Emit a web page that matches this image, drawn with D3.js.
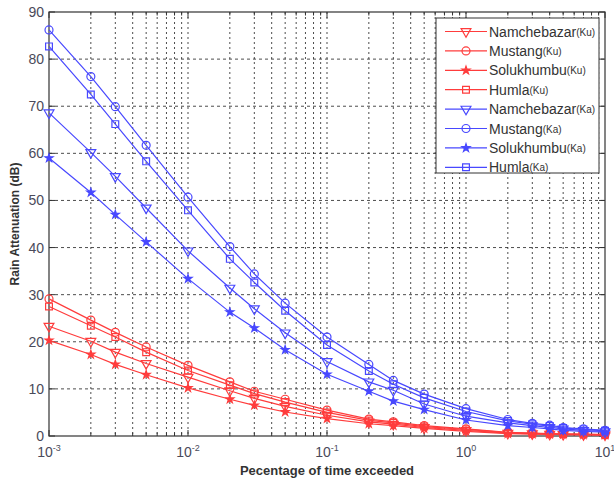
<!DOCTYPE html>
<html><head><meta charset="utf-8">
<script src="https://cdn.jsdelivr.net/npm/d3@7"></script>
<style>body{margin:0;background:#fff} svg{display:block}</style>
</head><body><svg id="c" width="614" height="485"></svg>
<script>
const percentTime = [0.001,0.002,0.003,0.005,0.01,0.02,0.03,0.05,0.1,0.2,0.3,0.5,1,2,3,4,5,7,10];
const namchebazarKu = [23.3,20.1,17.8,15.4,12.5,9.6,8.0,6.3,4.4,3.0,2.5,1.8,1.2,0.6,0.5,0.4,0.35,0.3,0.25];
const mustangKu     = [29.1,24.6,22.0,18.9,15.0,11.5,9.5,7.8,5.5,3.6,3.0,2.2,1.5,0.8,0.6,0.5,0.45,0.4,0.3];
const solukhumbuKu  = [20.3,17.3,15.2,13.0,10.2,7.8,6.5,5.1,3.7,2.6,2.2,1.6,1.0,0.5,0.4,0.35,0.3,0.25,0.2];
const humlaKu       = [27.5,23.4,21.0,17.8,13.9,10.8,9.0,7.2,5.0,3.3,2.8,2.0,1.4,0.7,0.55,0.45,0.4,0.35,0.28];
const namchebazarKa = [68.6,60.2,55.1,48.4,39.3,31.4,27.0,21.9,15.8,11.5,9.7,6.8,4.2,2.8,2.2,1.8,1.5,1.2,0.9];
const mustangKa     = [86.2,76.3,69.9,61.7,50.7,40.2,34.4,28.2,21.0,15.2,11.8,8.9,5.8,3.5,2.7,2.3,1.8,1.5,1.2];
const solukhumbuKa  = [59.0,51.7,47.0,41.2,33.4,26.3,22.9,18.3,13.1,9.5,7.4,5.6,3.4,2.2,1.8,1.5,1.2,1.0,0.8];
const humlaKa       = [82.7,72.5,66.2,58.3,47.9,37.6,32.6,26.6,19.3,13.8,11.0,8.1,5.2,3.2,2.5,2.1,1.7,1.4,1.1];
const seriesNames = ["Namchebazar","Mustang","Solukhumbu","Humla","Namchebazar","Mustang","Solukhumbu","Humla"];
const seriesBands = ["Ku","Ku","Ku","Ku","Ka","Ka","Ka","Ka"];
const seriesValues = [namchebazarKu,mustangKu,solukhumbuKu,humlaKu,namchebazarKa,mustangKa,solukhumbuKa,humlaKa];
const yTicks = [0,10,20,30,40,50,60,70,80,90];
const xTickExps = [-3,-2,-1,0,1];
const xLabel = "Pecentage of time exceeded";
const yLabel = "Rain Attenuation (dB)";

const svg = d3.select("#c");
const L=49, R=605, T=12, B=436;
const x = d3.scaleLog().domain([1e-3,10]).range([L,R]);
const y = d3.scaleLinear().domain([0,90]).range([B,T]);
const bandColor = {Ku:"#ff3c3c", Ka:"#4848ff"};
const markerType = [d3.symbolTriangle, d3.symbolCircle, d3.symbolStar, d3.symbolSquare];
const markerSize = [42, 50, 20, 46];
const markerRot = [180, 0, 0, 0];
const markerFill = [false, false, true, false];

// grid
const minor = [];
for (let e=-3;e<=0;e++) for (let k=1;k<=9;k++) minor.push(k*Math.pow(10,e));
minor.push(10);
const g = svg.append("g");
g.selectAll("line.vg").data(minor.filter(v=>v>1e-3 && v<10)).enter().append("line")
  .attr("x1",d=>x(d)).attr("x2",d=>x(d)).attr("y1",T).attr("y2",B)
  .attr("stroke","#222").attr("stroke-width",1).attr("stroke-dasharray","2,3").attr("opacity",0.8);
g.selectAll("line.hg").data(yTicks.filter(v=>v>0&&v<90)).enter().append("line")
  .attr("x1",L).attr("x2",R).attr("y1",d=>y(d)).attr("y2",d=>y(d))
  .attr("stroke","#222").attr("stroke-width",1).attr("stroke-dasharray","3,3").attr("opacity",0.8);

// axes box & ticks
const ax = svg.append("g").attr("font-family","Liberation Sans, Arial, sans-serif");
ax.append("rect").attr("x",L).attr("y",T).attr("width",R-L).attr("height",B-T)
  .attr("fill","none").attr("stroke","#333").attr("stroke-width",1.2);
minor.forEach(v=>{
  const len = Number.isInteger(Math.log10(v)) ? 6 : 3.5;
  ax.append("line").attr("x1",x(v)).attr("x2",x(v)).attr("y1",B).attr("y2",B-len).attr("stroke","#333");
  ax.append("line").attr("x1",x(v)).attr("x2",x(v)).attr("y1",T).attr("y2",T+len).attr("stroke","#333");
});
yTicks.forEach(v=>{
  ax.append("line").attr("x1",L).attr("x2",L+6).attr("y1",y(v)).attr("y2",y(v)).attr("stroke","#333");
  ax.append("line").attr("x1",R).attr("x2",R-6).attr("y1",y(v)).attr("y2",y(v)).attr("stroke","#333");
});
ax.selectAll("text.yt").data(yTicks).enter().append("text")
  .attr("x",L-5).attr("y",d=>y(d)+5).attr("text-anchor","end")
  .attr("font-size",14).attr("fill","#4a4a5a").text(d=>d);
xTickExps.forEach(e=>{
  const t = ax.append("text").attr("x",x(Math.pow(10,e))).attr("y",457)
    .attr("text-anchor","middle").attr("font-size",14).attr("fill","#4a4a5a");
  t.append("tspan").text("10");
  t.append("tspan").attr("dy",-6).attr("font-size",9).text(e);
});
ax.append("text").attr("x",(L+R)/2).attr("y",475).attr("text-anchor","middle")
  .attr("font-size",13).attr("font-weight","bold").attr("fill","#333").text(xLabel);
ax.append("text").attr("transform",`translate(19,${(T+B)/2}) rotate(-90)`).attr("text-anchor","middle")
  .attr("font-size",12).attr("font-weight","bold").attr("fill","#333").text(yLabel);

// series
const line = d3.line().x(d=>x(d[0])).y(d=>y(d[1]));
seriesValues.forEach((vals,i)=>{
  const col = bandColor[seriesBands[i]];
  const pts = percentTime.map((p,j)=>[p,vals[j]]);
  const sg = svg.append("g");
  sg.append("path").datum(pts).attr("d",line).attr("fill","none").attr("stroke",col).attr("stroke-width",1.2);
  const sym = d3.symbol().type(markerType[i%4]).size(markerSize[i%4]);
  sg.selectAll("path.m").data(pts).enter().append("path")
    .attr("d",sym).attr("transform",d=>`translate(${x(d[0])},${y(d[1])}) rotate(${markerRot[i%4]})`)
    .attr("fill",markerFill[i%4]?col:"none").attr("stroke",col).attr("stroke-width",1.2);
});

// legend
const lg = svg.append("g").attr("font-family","Liberation Sans, Arial, sans-serif");
lg.append("rect").attr("x",436).attr("y",18).attr("width",163).attr("height",155)
  .attr("fill","#fff").attr("stroke","#333").attr("stroke-width",1);
seriesNames.forEach((n,i)=>{
  const yy = 31.5 + i*19.4;
  const col = bandColor[seriesBands[i]];
  lg.append("line").attr("x1",445).attr("x2",487).attr("y1",yy).attr("y2",yy).attr("stroke",col).attr("stroke-width",1.2);
  lg.append("path").attr("d",d3.symbol().type(markerType[i%4]).size(markerSize[i%4]))
    .attr("transform",`translate(466,${yy}) rotate(${markerRot[i%4]})`)
    .attr("fill",markerFill[i%4]?col:"none").attr("stroke",col).attr("stroke-width",1.2);
  const t = lg.append("text").attr("x",489).attr("y",yy+5).attr("font-size",14).attr("fill","#333");
  t.append("tspan").text(n);
  t.append("tspan").attr("font-size",10).attr("dy",-1).text("("+seriesBands[i]+")");
});
</script></body></html>
